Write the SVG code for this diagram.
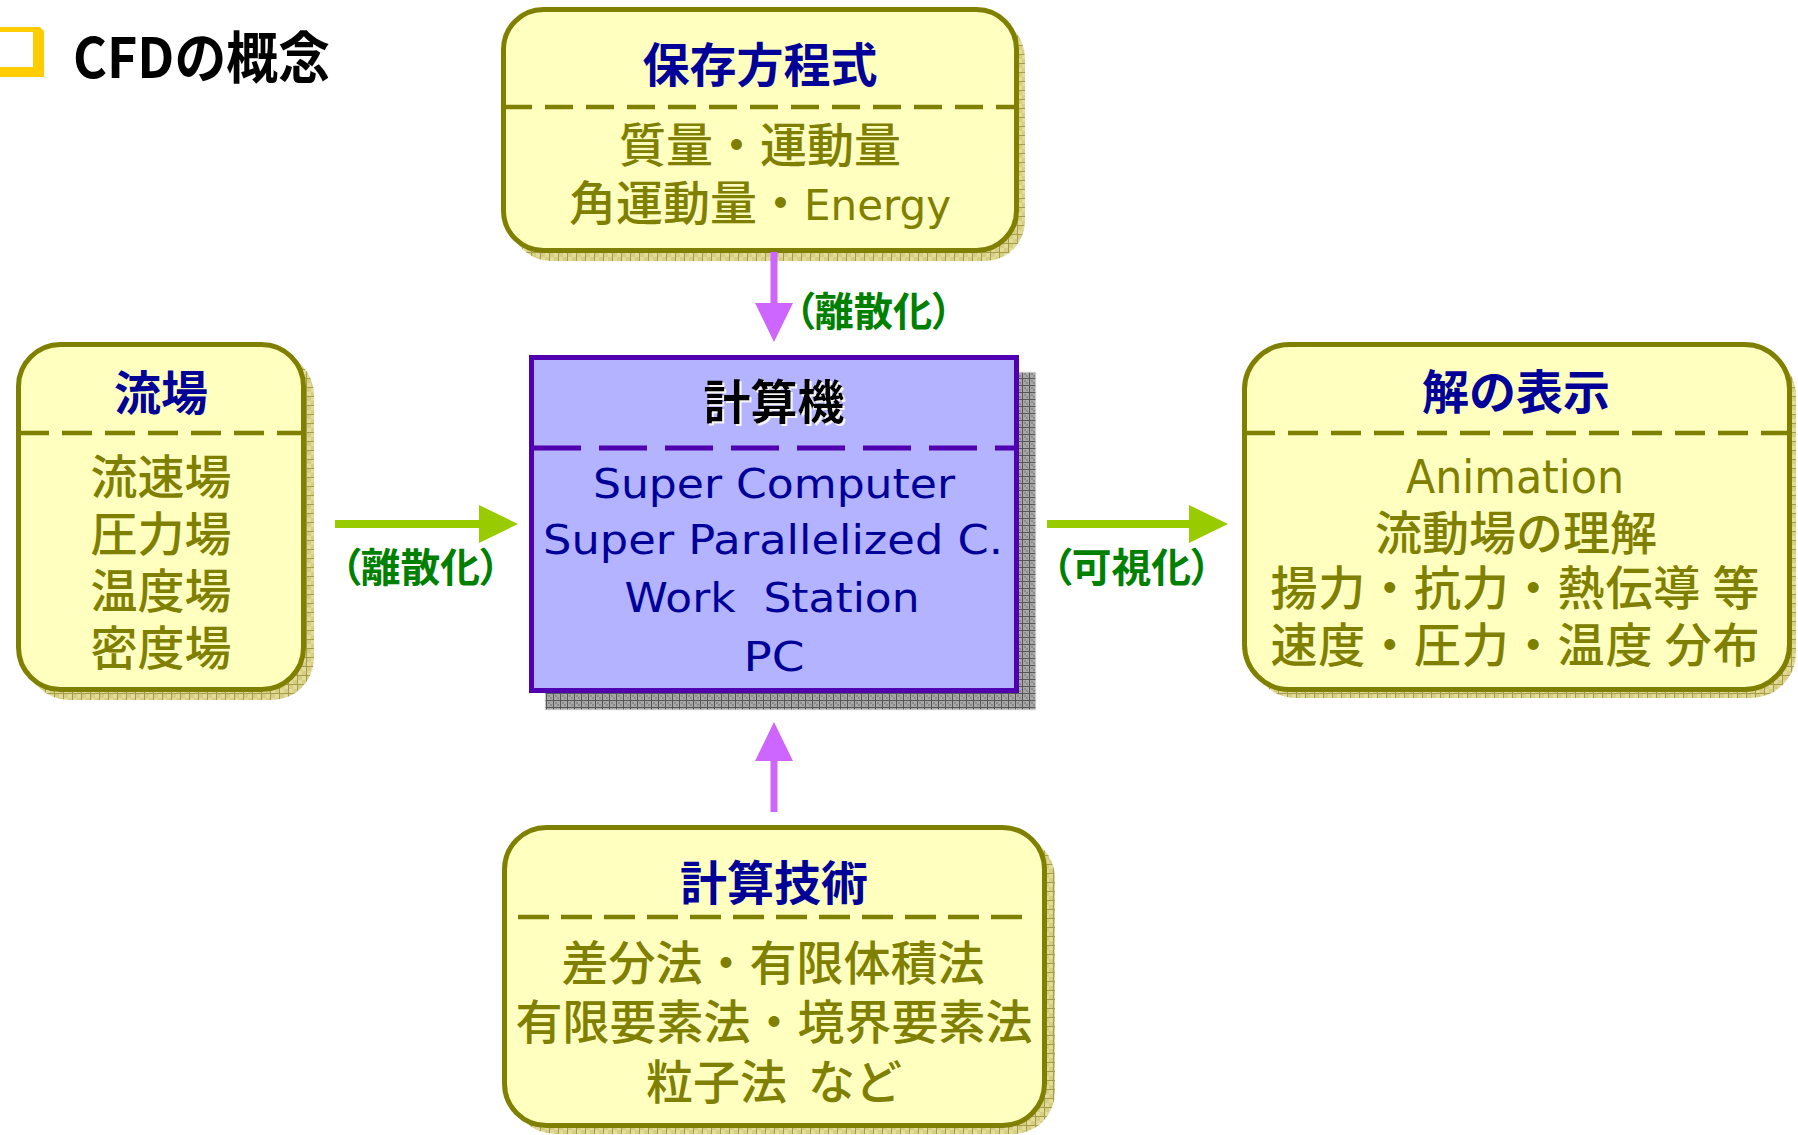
<svg xmlns="http://www.w3.org/2000/svg" width="1798" height="1135" viewBox="0 0 1798 1135">
  <style>
    .box { fill: #FFFFC0; stroke: #808000; stroke-width: 5; }
    .shadow-y { fill: url(#hatchOlive); }
    .sep { stroke: #808000; stroke-width: 4.5; fill: none; stroke-dasharray: 30 13; }
    .title { font-family: "Noto Sans CJK JP", "Liberation Sans", sans-serif; font-weight: bold; font-size: 47px; fill: #000099; text-anchor: middle; }
    .body { font-family: "Noto Sans CJK JP", "Liberation Sans", sans-serif; font-weight: 500; font-size: 47px; fill: #808000; text-anchor: middle; }
    .latin { font-family: "DejaVu Sans", "Liberation Sans", sans-serif; font-weight: normal; }
    .cpu-text { font-family: "DejaVu Sans", "Liberation Sans", sans-serif; font-size: 40px; fill: #000099; text-anchor: middle; }
    .label { font-family: "Noto Sans CJK JP", "Liberation Sans", sans-serif; font-weight: bold; font-size: 40px; fill: #008000; font-feature-settings: "palt"; }
    .arrow-green { stroke: #99CC00; stroke-width: 8; fill: none; }
    .arrow-purple { stroke: #CC66FF; stroke-width: 7; fill: none; }
  </style>
  <defs>
    <pattern id="hatchOlive" width="9" height="9" patternUnits="userSpaceOnUse">
      <rect width="9" height="9" fill="#E2DC98"/>
      <rect x="1" y="1" width="4" height="4" fill="#D6CE84"/>
      <rect x="5" y="5" width="4" height="4" fill="#D6CE84"/>
      <path d="M0 0.5H9M0.5 0V9" stroke="#A49C48" stroke-width="1"/>
    </pattern>
    <pattern id="hatchGrey" width="7" height="7" patternUnits="userSpaceOnUse">
      <rect width="7" height="7" fill="#A8A8A8"/>
      <rect x="2" y="2" width="2" height="2" fill="#8C8C8C"/>
      <rect x="4" y="4" width="2" height="2" fill="#8C8C8C"/>
      <path d="M0 0.5H7M0.5 0V7" stroke="#555555" stroke-width="1"/>
    </pattern>
    <marker id="headGreen" markerUnits="userSpaceOnUse" markerWidth="40" markerHeight="38" viewBox="0 0 40 38" refX="0" refY="19" orient="auto">
      <path d="M0 0L39 19L0 38Z" fill="#99CC00"/>
    </marker>
    <marker id="headPurple" markerUnits="userSpaceOnUse" markerWidth="40" markerHeight="38" viewBox="0 0 40 38" refX="0" refY="19" orient="auto">
      <path d="M0 0L39 19L0 38Z" fill="#CC66FF"/>
    </marker>
    <filter id="glow" x="-10%" y="-10%" width="120%" height="130%">
      <feDropShadow dx="2" dy="2" stdDeviation="0.6" flood-color="#F4F4F4" flood-opacity="1"/>
    </filter>
  </defs>

  <rect width="1798" height="1135" fill="#FFFFFF"/>

  <!-- heading -->
  <g id="heading">
    <rect x="-12" y="27" width="56" height="50" fill="#FFCC00"/>
    <rect x="-12" y="32" width="45" height="35" fill="#FFFFFF"/>
    <polygon points="40,27 44,27 44,31" fill="#FFFFFF"/>
    <text x="73" y="78" font-family="'Noto Sans CJK JP', 'Liberation Sans', sans-serif" font-weight="bold" font-size="56" fill="#000000" textLength="257" lengthAdjust="spacingAndGlyphs">CFDの概念</text>
  </g>

  <!-- conservation equations -->
  <g id="node-equations">
    <rect class="shadow-y" x="511" y="18" width="514" height="243" rx="40"/>
    <rect class="box" x="503.5" y="9.5" width="513" height="241" rx="40"/>
    <path class="sep" d="M504 107H1016" style="stroke-dasharray: 28 13"/>
    <text class="title" x="760" y="82">保存方程式</text>
    <text class="body" x="760" y="162">質量・運動量</text>
    <text class="body" x="760" y="220">角運動量・<tspan class="latin" font-size="42">Energy</tspan></text>
  </g>

  <!-- flow field -->
  <g id="node-flow">
    <rect class="shadow-y" x="27" y="353" width="287" height="347" rx="42"/>
    <rect class="box" x="18.5" y="344.5" width="285" height="345" rx="42"/>
    <path class="sep" d="M19 433H303"/>
    <text class="title" x="161" y="410">流場</text>
    <text class="body" x="161" y="494">流速場</text>
    <text class="body" x="161" y="551">圧力場</text>
    <text class="body" x="161" y="608">温度場</text>
    <text class="body" x="161" y="665">密度場</text>
  </g>

  <!-- computer -->
  <g id="node-computer">
    <rect x="545" y="372" width="491" height="338" fill="url(#hatchGrey)" stroke="#EEEEEE" stroke-width="1"/>
    <rect x="531.5" y="357.5" width="485" height="333" fill="#B3B3FF" stroke="#5000B0" stroke-width="5"/>
    <path d="M533 448H1017" stroke="#5000B0" stroke-width="5" stroke-dasharray="48 18"/>
    <text x="774" y="419" font-family="'Noto Sans CJK JP', sans-serif" font-weight="bold" font-size="47" fill="#000000" text-anchor="middle" filter="url(#glow)">計算機</text>
    <text class="cpu-text" x="774" y="498" textLength="362" lengthAdjust="spacingAndGlyphs">Super Computer</text>
    <text class="cpu-text" x="773" y="554" textLength="460" lengthAdjust="spacingAndGlyphs">Super Parallelized C.</text>
    <text class="cpu-text" x="772" y="612" textLength="295" lengthAdjust="spacingAndGlyphs" xml:space="preserve">Work  Station</text>
    <text class="cpu-text" x="774" y="671" textLength="61" lengthAdjust="spacingAndGlyphs">PC</text>
  </g>

  <!-- result display -->
  <g id="node-display">
    <rect class="shadow-y" x="1251" y="351" width="545" height="347" rx="45"/>
    <rect class="box" x="1244.5" y="344.5" width="545" height="345" rx="45"/>
    <path class="sep" d="M1245 433H1789"/>
    <text class="title" x="1516" y="409">解の表示</text>
    <text class="body latin" x="1515" y="493" font-size="44" textLength="218" lengthAdjust="spacingAndGlyphs">Animation</text>
    <text class="body" x="1516" y="550">流動場の理解</text>
    <text class="body" x="1515" y="605" textLength="489" lengthAdjust="spacing">揚力・抗力・熱伝導 等</text>
    <text class="body" x="1515" y="662" textLength="489" lengthAdjust="spacing">速度・圧力・温度 分布</text>
  </g>

  <!-- computational techniques -->
  <g id="node-techniques">
    <rect class="shadow-y" x="513" y="836" width="542" height="298" rx="42"/>
    <rect class="box" x="504.5" y="827.5" width="540" height="298" rx="42"/>
    <path class="sep" d="M518 917H1032" style="stroke-dasharray: 31 12"/>
    <text class="title" x="774" y="900">計算技術</text>
    <text class="body" x="773" y="980">差分法・有限体積法</text>
    <text class="body" x="774" y="1039">有限要素法・境界要素法</text>
    <text class="body" x="774" y="1099" xml:space="preserve">粒子法  など</text>
  </g>

  <!-- connectors -->
  <g id="connectors">
    <line class="arrow-purple" x1="774" y1="252" x2="774" y2="303" marker-end="url(#headPurple)"/>
    <line class="arrow-purple" x1="774" y1="812" x2="774" y2="761" marker-end="url(#headPurple)"/>
    <line class="arrow-green" x1="335" y1="524" x2="479" y2="524" marker-end="url(#headGreen)"/>
    <line class="arrow-green" x1="1047" y1="524" x2="1189" y2="524" marker-end="url(#headGreen)"/>
    <text class="label" x="795" y="326" textLength="157" lengthAdjust="spacingAndGlyphs">（離散化）</text>
    <text class="label" x="341" y="582" textLength="159" lengthAdjust="spacingAndGlyphs">（離散化）</text>
    <text class="label" x="1052" y="582" textLength="159" lengthAdjust="spacingAndGlyphs">（可視化）</text>
  </g>
</svg>
